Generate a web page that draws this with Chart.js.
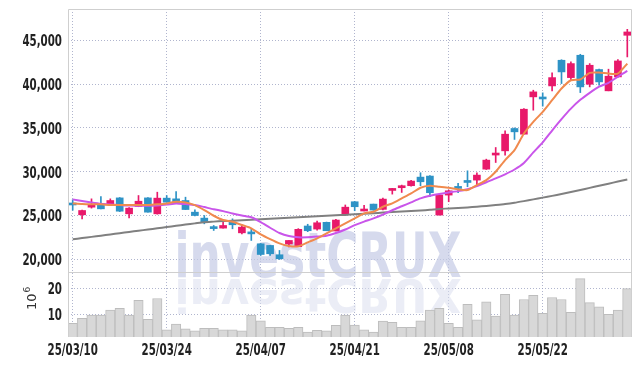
<!DOCTYPE html>
<html>
<head>
<meta charset="utf-8">
<script src="https://cdn.jsdelivr.net/npm/chart.js@4/dist/chart.umd.min.js"></script>
<style>
  html, body { margin: 0; padding: 0; background: #fff; }
  #wrap { width: 642px; height: 366px; }
</style>
</head>
<body>
<div id="wrap"><canvas id="chart" width="642" height="366"></canvas></div>
<script>
// trading days (YY/MM/DD)
const dates = [
  '25/03/10','25/03/11','25/03/12','25/03/13','25/03/14',
  '25/03/17','25/03/18','25/03/19','25/03/20','25/03/21',
  '25/03/24','25/03/25','25/03/26','25/03/27','25/03/28',
  '25/03/31','25/04/01','25/04/02','25/04/03','25/04/04',
  '25/04/07','25/04/08','25/04/09','25/04/10','25/04/11',
  '25/04/14','25/04/15','25/04/16','25/04/17','25/04/18',
  '25/04/21','25/04/22','25/04/23','25/04/24','25/04/25',
  '25/04/28','25/04/29','25/04/30','25/05/02','25/05/07',
  '25/05/08','25/05/09','25/05/12','25/05/13','25/05/14',
  '25/05/15','25/05/16','25/05/19','25/05/20','25/05/21',
  '25/05/22','25/05/23','25/05/26','25/05/27','25/05/28',
  '25/05/29','25/05/30','25/06/02','25/06/04','25/06/05'
];

// OHLC prices
const openP = [
  26300, 25080, 25950, 26330, 26330, 27010, 25190, 26030, 27010, 25190,
  26980, 26900, 26710, 25380, 24700, 23600, 23560, 24240, 23020, 23000,
  21770, 21580, 20520, 21750, 21440, 23800, 23450, 24220, 23230, 25150,
  26570, 25510, 26300, 25700, 27860, 28170, 28400, 29380, 29500, 25050,
  27330, 28170, 28800, 29040, 30290, 31900, 32380, 34930, 34280, 38540,
  38420, 39790, 42720, 40740, 43290, 39980, 41660, 39230, 40820, 45570
];
const highP = [
  26800, 25620, 26900, 27170, 26900, 27050, 25910, 27280, 27050, 27660,
  27280, 27740, 27090, 25650, 25000, 23860, 24240, 24620, 23940, 23480,
  21800, 21600, 21010, 22150, 23500, 24000, 24350, 24250, 24560, 26200,
  26600, 26150, 26300, 27000, 28100, 28470, 29000, 29880, 29550, 27400,
  27900, 28660, 30100, 29880, 31430, 32760, 34660, 35000, 37200, 39300,
  39000, 41280, 42780, 42530, 43400, 42340, 41700, 41700, 42800, 46250
];
const lowP = [
  25600, 24620, 25840, 25760, 26220, 25450, 24730, 26000, 25380, 25150,
  26500, 26440, 25680, 24950, 24050, 23290, 23550, 23480, 22910, 22150,
  20440, 20440, 19980, 21400, 21440, 23150, 23330, 23260, 23230, 25050,
  25540, 25510, 25600, 25650, 27440, 27630, 28350, 28400, 27140, 25050,
  26570, 27600, 28280, 28470, 30250, 31050, 31890, 33680, 34280, 37020,
  37480, 39220, 40060, 40440, 39030, 39680, 39870, 39230, 40800, 43100
];
const closeP = [
  26200, 25570, 26250, 25760, 26710, 25490, 25840, 26630, 25380, 26980,
  26520, 26440, 25680, 25000, 24240, 23500, 23860, 23940, 23670, 22900,
  20550, 20630, 20060, 22150, 23420, 23260, 24170, 23260, 24480, 25950,
  26000, 25620, 25620, 26870, 27950, 28400, 28930, 28850, 27600, 27330,
  27820, 28090, 28770, 29610, 31320, 31970, 34280, 34550, 37130, 39110,
  38300, 40740, 41390, 42340, 39680, 42150, 40250, 40900, 42640, 45950
];

// moving averages
const ma5 = [
  26380, 26300, 26270, 26270, 26190, 26190, 26190, 26190, 26190, 26270,
  26380, 26570, 26490, 26190, 25620, 24970, 24480, 24290, 23910, 23530,
  22850, 22310, 21820, 21520, 21480, 21930, 22390, 22960, 23530, 24100,
  24670, 25240, 25430, 26000, 26380, 26950, 27520, 28170, 28390, 28280,
  28170, 27980, 27900, 28470, 29040, 29990, 31320, 32460, 34360, 35690,
  36830, 38160, 39490, 40440, 40520, 41280, 41310, 41200, 41200, 42340
];
const ma10 = [
  26840, 26650, 26480, 26330, 26250, 26190, 26130, 26110, 26110, 26150,
  26240, 26380, 26300, 26200, 25960, 25710, 25500, 25230, 25000, 24800,
  24250, 23600, 23000, 22650, 22510, 22520, 22600, 22700, 23000, 23400,
  23900, 24300, 24670, 25100, 25600, 26050, 26500, 26950, 27250, 27450,
  27620, 27780, 28000, 28350, 28800, 29230, 29700, 30250, 31000, 32200,
  33350, 34700, 36000, 37200, 38200, 39000, 39700, 40150, 40850, 41500
];
const maLong = [
  22280, 22420, 22560, 22700, 22840, 22980, 23120, 23260, 23400, 23540,
  23680, 23820, 23960, 24100, 24240, 24300, 24360, 24410, 24470, 24520,
  24580, 24630, 24690, 24740, 24800, 24850, 24910, 24960, 25020, 25070,
  25130, 25200, 25260, 25330, 25390, 25450, 25510, 25570, 25650, 25750,
  25800, 25860, 25920, 26000, 26090, 26190, 26300, 26450, 26640, 26840,
  27040, 27240, 27450, 27680, 27910, 28150, 28390, 28630, 28870, 29110
];

// volume in millions
const volume = [
  6.4, 8.3, 9.6, 9.6, 11.6, 12.2, 9.6, 15.4, 7.9, 16.1,
  3.8, 6.1, 4.2, 3.4, 4.4, 4.4, 3.8, 3.8, 3.4, 9.6,
  7.3, 4.8, 4.8, 4.4, 4.8, 2.9, 3.6, 3.4, 5.6, 9.6,
  5.7, 3.8, 2.9, 7.2, 6.8, 4.8, 4.8, 7.3, 11.6, 12.2,
  6.4, 4.8, 13.8, 7.7, 14.8, 9.2, 17.7, 9.6, 15.7, 17.3,
  10.3, 16.5, 15.7, 10.7, 23.9, 14.5, 12.8, 9.9, 11.6, 20.0
];

const priceTicks = [20000, 25000, 30000, 35000, 40000, 45000];
const volTicks = [10, 20];
const labelEvery = 10;

const UP = '#e8196a';
const DOWN = '#2e93c6';
const FONT = '"DejaVu Sans", sans-serif';
const gridColor = 'rgba(150,156,190,0.75)';
const SQUEEZE = 0.76; // tick labels in the original use a narrow face

const candleColors = closeP.map((c, i) => (c >= openP[i] ? UP : DOWN));

const canvas = document.getElementById('chart');
const ctx = canvas.getContext('2d');

// squeeze tick label text horizontally around its anchor while axes are drawn
const baseFillText = ctx.fillText;
ctx.fillText = function (text, x, y, maxWidth) {
  if (this.__squeeze) {
    // y-axis labels (right aligned) sit a little under their grid line
    const dy = this.textAlign === 'right' ? 2 : 0;
    this.save();
    this.translate(x, y + dy);
    this.scale(this.__squeeze, 1);
    baseFillText.call(this, text, 0, 0);
    this.restore();
  } else if (maxWidth === undefined) {
    baseFillText.call(this, text, x, y);
  } else {
    baseFillText.call(this, text, x, y, maxWidth);
  }
};

// watermark + panel frame
const decorPlugin = {
  id: 'decor',
  beforeDraw(chart) {
    chart.ctx.__squeeze = SQUEEZE;
  },
  beforeDatasetsDraw(chart) {
    const c = chart.ctx;
    c.__squeeze = 0;
    c.save();
    c.font = 'bold 62px "DejaVu Sans", sans-serif';
    c.textAlign = 'center';
    c.textBaseline = 'alphabetic';
    const w = c.measureText('investCRUX').width;
    c.translate(318, 277);
    c.scale(287 / w, 1);
    c.fillStyle = 'rgba(196,203,229,0.7)';
    c.fillText('investCRUX', 0, 0);
    c.scale(1, -0.75);
    c.fillStyle = 'rgba(218,222,238,0.55)';
    c.fillText('investCRUX', 0, -3);
    c.restore();
  },
  afterDraw(chart) {
    const c = chart.ctx;
    const a = chart.chartArea;
    const sep = chart.scales.y.bottom;
    c.save();
    c.strokeStyle = '#cfcfcf';
    c.lineWidth = 1;
    c.beginPath();
    c.moveTo(a.left + 0.5, a.bottom);
    c.lineTo(a.left + 0.5, a.top + 0.5);
    c.lineTo(a.right - 0.5, a.top + 0.5);
    c.lineTo(a.right - 0.5, a.bottom);
    c.moveTo(a.left, Math.round(sep) + 0.5);
    c.lineTo(a.right, Math.round(sep) + 0.5);
    c.stroke();
    // volume unit label
    c.translate(36, 302);
    c.rotate(-Math.PI / 2);
    c.fillStyle = '#333';
    c.textBaseline = 'alphabetic';
    c.textAlign = 'left';
    c.font = '13px "DejaVu Sans", sans-serif';
    c.fillText('10', -8, 0);
    const tw = c.measureText('10').width;
    c.font = '9px "DejaVu Sans", sans-serif';
    c.fillText('6', -8 + tw + 1, -6);
    c.restore();
  }
};

// condensed bold, passed through the weight slot of the font shorthand
const tickFont = { family: FONT, size: 15, weight: 'bold condensed' };

const noPadY = s => { s.width = 68; s.paddingTop = 0; s.paddingBottom = 0; };

new Chart(ctx, {
  type: 'bar',
  data: {
    labels: dates,
    datasets: [
      { type: 'line', label: 'MA5', data: ma5, yAxisID: 'y', borderColor: '#f08a4e', borderWidth: 2, pointRadius: 0, tension: 0.2, order: 1 },
      { type: 'line', label: 'MA10', data: ma10, yAxisID: 'y', borderColor: '#c955ea', borderWidth: 2, pointRadius: 0, tension: 0.2, order: 1 },
      { type: 'line', label: 'MA long', data: maLong, yAxisID: 'y', borderColor: '#808080', borderWidth: 2, pointRadius: 0, tension: 0.2, order: 1 },
      { label: 'body', data: dates.map((d, i) => [openP[i], closeP[i]]), yAxisID: 'y', backgroundColor: candleColors, barThickness: 7, minBarLength: 2, grouped: false, order: 2 },
      { label: 'wick', data: dates.map((d, i) => [lowP[i], highP[i]]), yAxisID: 'y', backgroundColor: candleColors, barThickness: 1, grouped: false, order: 3 },
      { label: 'volume', data: volume, yAxisID: 'yVol', backgroundColor: '#d8d8d8', borderColor: '#bdbdbd', borderWidth: 1, barPercentage: 1, categoryPercentage: 1, grouped: false, order: 4 }
    ]
  },
  options: {
    responsive: false,
    animation: false,
    layout: { padding: { top: 9, right: 10, left: 0, bottom: 0 } },
    plugins: { legend: { display: false }, tooltip: { enabled: false } },
    scales: {
      x: {
        type: 'category',
        offset: true,
        grid: { offset: false, color: gridColor, drawTicks: false },
        border: { display: false, dash: [1, 2] },
        ticks: {
          autoSkip: false, maxRotation: 0, padding: 5, color: '#222',
          font: tickFont,
          callback: (v, i) => (i % labelEvery === 0 ? dates[i] : null)
        },
        afterFit: s => { s.height = 29; s.paddingLeft = 0; s.paddingRight = 0; }
      },
      yVol: {
        type: 'linear', position: 'left', stack: 'panels', stackWeight: 65,
        min: 1, max: 26.5,
        grid: { color: gridColor, drawTicks: false },
        border: { display: false, dash: [1, 2] },
        ticks: { padding: 6, color: '#222', font: tickFont, callback: v => String(v) },
        afterBuildTicks: s => { s.ticks = volTicks.map(v => ({ value: v })); },
        afterFit: noPadY
      },
      y: {
        type: 'linear', position: 'left', stack: 'panels', stackWeight: 263,
        min: 18550, max: 48570,
        grid: { color: gridColor, drawTicks: false },
        border: { display: false, dash: [1, 2] },
        ticks: { padding: 6, color: '#222', font: tickFont, callback: v => v.toLocaleString('en-US') },
        afterBuildTicks: s => { s.ticks = priceTicks.map(v => ({ value: v })); },
        afterFit: noPadY
      }
    }
  },
  plugins: [decorPlugin]
});
</script>
</body>
</html>
